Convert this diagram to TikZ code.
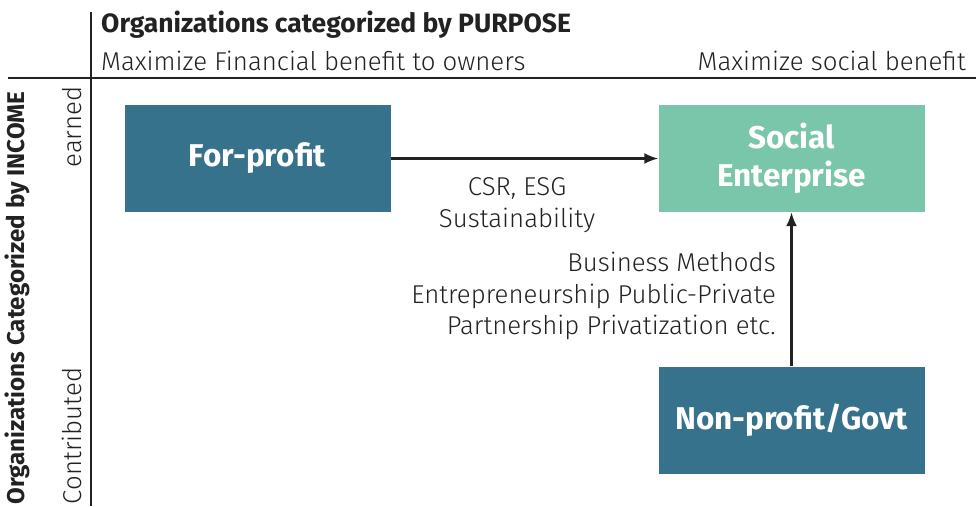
\documentclass[tikz,border=0pt]{standalone}
\usepackage{fontspec}
\setmainfont{Fira Sans}
\newfontfamily\lightfont{Fira Sans Light}
\usetikzlibrary{arrows.meta}
\definecolor{darkteal}{HTML}{36728C}
\definecolor{mint}{HTML}{79C6AB}
\definecolor{ink}{HTML}{222222}

\begin{document}
\begin{tikzpicture}[x=1pt, y=-1pt,
    box/.style={minimum width=266pt, minimum height=107pt, inner sep=0pt,
      text=white, align=center, font=\bfseries\fontsize{31.5}{38}\selectfont},
    note/.style={inner sep=0pt, text=ink, font=\lightfont\fontsize{25.8}{31.5}\selectfont},
    head/.style={inner sep=0pt, text=ink, font=\bfseries\fontsize{26.5}{30}\selectfont},
    flow/.style={draw=ink, line width=2.2pt, -{Latex[length=14pt,width=11pt]}}]
    \useasboundingbox (0,0) rectangle (976,506);
    % axes
    \draw[ink, line width=2.5pt] (91,12) -- (91,506);
    \draw[ink, line width=2.5pt] (8,78) -- (976,78);
    % purpose axis
    \node[head, anchor=base west] (purpose) at (101,32) {Organizations categorized by PURPOSE};
    \node[note, anchor=base west] (financial) at (101,70) {Maximize Financial benefit to owners};
    \node[note, anchor=base east] (social) at (966,70) {Maximize social benefit};
    % income axis
    \node[head, rotate=90, font=\bfseries\fontsize{24.2}{28}\selectfont] (income) at (17,298) {Organizations Categorized by INCOME};
    \node[note, rotate=90] (earned) at (72,127) {earned};
    \node[note, rotate=90] (contributed) at (72,436) {Contributed};
    % boxes
    \node[box, fill=darkteal] (forprofit) at (257.5,158.5) {For-profit};
    \node[box, fill=mint] (socent) at (791.5,158.5) {Social\\Enterprise};
    \node[box, fill=darkteal] (nonprofit) at (791.5,420) {Non-profit/Govt};
    % connectors
    \draw[flow] (forprofit) -- (socent);
    \draw[flow] (nonprofit) -- (socent);
    \node[note, align=center] (csr) at (517,205) {CSR, ESG\\Sustainability};
    \node[note, align=right, anchor=east] (methods) at (776,296) {Business Methods\\Entrepreneurship Public-Private\\Partnership Privatization etc.};
\end{tikzpicture}
\end{document}
